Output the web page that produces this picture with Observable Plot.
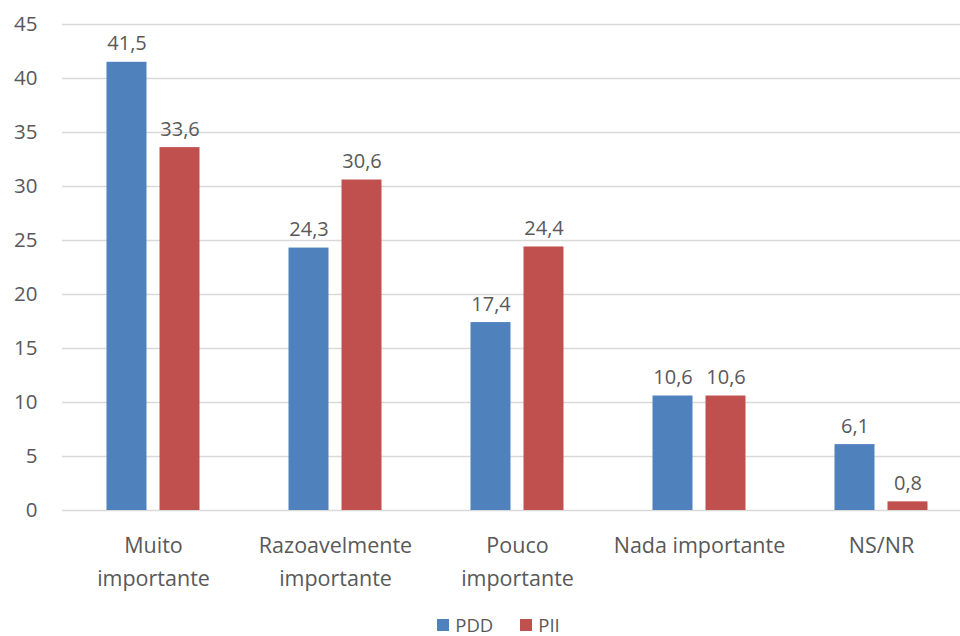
<!DOCTYPE html>
<html>
<head>
<meta charset="utf-8">
<script src="https://cdn.jsdelivr.net/npm/d3@7"></script>
<script src="https://cdn.jsdelivr.net/npm/@observablehq/plot@0.6"></script>
<style>
  html, body { margin: 0; padding: 0; background: #fff; overflow: hidden; }
  #chart { width: 960px; height: 610px; }
  .legend { display: flex; justify-content: center; align-items: center; gap: 27px; height: 22px; line-height: 22px; margin-top: 4px;
    font-family: "Open Sans", sans-serif; font-size: 18.5px; color: #595959; margin-left: 37px; }
  .legend span.sw { display: inline-block; width: 12px; height: 12px; margin-right: 6px; }
  .legend .item { display: flex; align-items: center; }
</style>
</head>
<body>
<div id="chart"></div>
<script>
const categories = ["Muito\nimportante", "Razoavelmente\nimportante", "Pouco\nimportante", "Nada importante", "NS/NR"];
const series = ["PDD", "PII"];
const pdd = [41.5, 24.3, 17.4, 10.6, 6.1];
const pii = [33.6, 30.6, 24.4, 10.6, 0.8];
const yTicks = [0, 5, 10, 15, 20, 25, 30, 35, 40, 45];
const colors = ["#4F81BD", "#C0504D"];

const data = [];
categories.forEach((c, i) => {
  data.push({category: c, series: "PDD", value: pdd[i]});
  data.push({category: c, series: "PII", value: pii[i]});
});
const dPDD = data.filter(d => d.series === "PDD");
const dPII = data.filter(d => d.series === "PII");
const fmt = v => v.toFixed(1).replace(".", ",");
const font = "Open Sans, sans-serif";

const chart = Plot.plot({
  width: 960,
  height: 610,
  marginTop: 24,
  marginBottom: 100,
  marginLeft: 62,
  marginRight: 0,
  style: {fontFamily: font, fontSize: "20px", color: "#595959", background: "#fff"},
  x: {domain: categories, range: [61.5, 971.5], padding: 0},
  y: {domain: [0, 45]},
  color: {domain: series, range: colors},
  marks: [
    Plot.axisY({ticks: yTicks, tickSize: 0, tickPadding: 25, label: null, grid: false, fill: "#595959", fontSize: 20.5}),
    Plot.gridY({ticks: yTicks, stroke: "#D9D9D9", strokeOpacity: 1, strokeWidth: 1.5}),
    Plot.axisX({tickSize: 0, tickPadding: 20, label: null, lineHeight: 1.5, fill: "#595959", fontSize: 21.5}),
    Plot.barY(dPDD, {x: "category", y: "value", fill: colors[0], insetLeft: 44.5, insetRight: 97.5}),
    Plot.barY(dPII, {x: "category", y: "value", fill: colors[1], insetLeft: 97.5, insetRight: 44.5}),
    Plot.text(dPDD, {x: "category", y: "value", text: d => fmt(d.value), dx: -26.5, dy: -12, lineAnchor: "bottom", fill: "#595959", fontSize: 20}),
    Plot.text(dPII, {x: "category", y: "value", text: d => fmt(d.value), dx: 26.5, dy: -12, lineAnchor: "bottom", fill: "#595959", fontSize: 20})
  ]
});
document.getElementById("chart").appendChild(chart);

const legend = document.createElement("div");
legend.className = "legend";
series.forEach((s, i) => {
  const item = document.createElement("div");
  item.className = "item";
  const sw = document.createElement("span");
  sw.className = "sw";
  sw.style.background = colors[i];
  item.appendChild(sw);
  item.appendChild(document.createTextNode(s));
  legend.appendChild(item);
});
document.body.appendChild(legend);
</script>
</body>
</html>
